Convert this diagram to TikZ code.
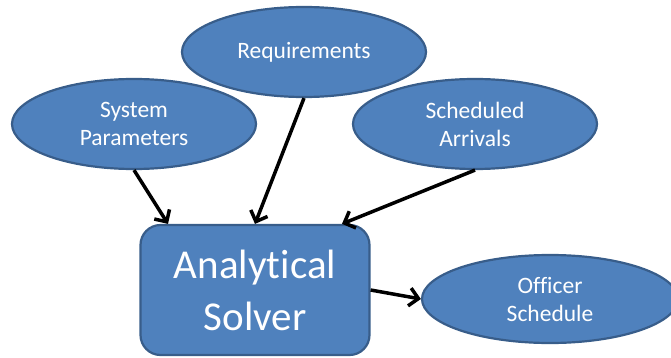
\documentclass[tikz,border=0pt]{standalone}
\usepackage{fontspec}
\setmainfont{Carlito}[Ligatures=NoCommon]
\usetikzlibrary{shapes.geometric,arrows.meta,calc}
\definecolor{fillblue}{HTML}{4F81BD}
\definecolor{edgeblue}{HTML}{385D8A}
\tikzset{
  oval/.style={ellipse, draw=edgeblue, fill=fillblue, line width=2.2pt, inner sep=0pt,
    text=white, align=center, font=\fontsize{23.5}{28}\selectfont},
  solverbox/.style={rectangle, rounded corners=20pt, draw=edgeblue, fill=fillblue, line width=2.2pt,
    text=white, align=center, inner sep=0pt, font=\fontsize{41}{52}\selectfont},
  link/.style={draw=black, line width=3.5pt, -{Straight Barb[length=9pt,width=18pt,line width=3.5pt]}}
}
\begin{document}
\begin{tikzpicture}[x=1pt,y=-1pt]
\useasboundingbox (0,0) rectangle (671,358);
\node[oval, minimum width=244pt, minimum height=90pt] (sys) at (134,124) {System\\Parameters};
\node[oval, minimum width=244pt, minimum height=90pt] (req) at (304,52) {Requirements};
\node[oval, minimum width=244pt, minimum height=90pt] (sch) at (475,124) {Scheduled\\Arrivals};
\node[solverbox, minimum width=229pt, minimum height=130pt] (box) at (255,290) {Analytical\\Solver};
\node[oval, minimum width=256pt, minimum height=88pt] (off) at (550,299) {Officer\\Schedule};
\draw[link] (sys.south) -- ($(box.north)+(-87,0)$);
\draw[link] (req.south) -- (box.north);
\draw[link] (sch.south) -- ($(box.north)+(87,0)$);
\draw[link] (box.east) -- (off.west);
\end{tikzpicture}
\end{document}
